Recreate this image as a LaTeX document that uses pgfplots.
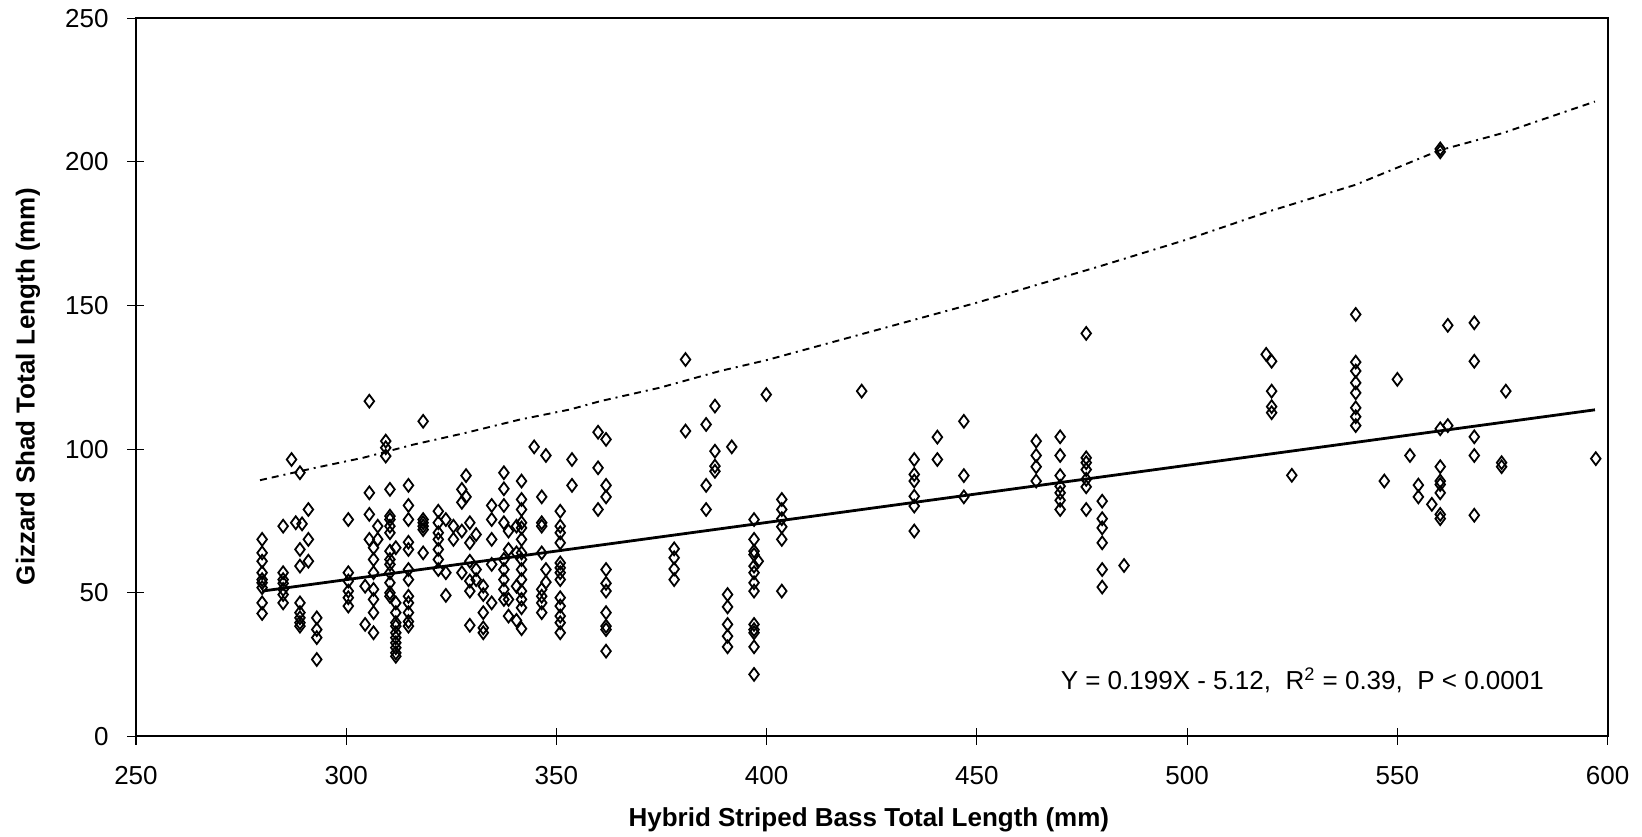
\documentclass[border=0pt]{standalone}
\usepackage{fontspec}
\setmainfont{Liberation Sans}
\usepackage{pgfplots}
\pgfplotsset{compat=1.18}
\begin{document}
\fontsize{13}{15}\selectfont
\begin{tikzpicture}
\begin{axis}[
  scale only axis, width=735.75pt, height=359.1pt,
  xmin=250, xmax=600, ymin=0, ymax=250,
  xtick={250,300,...,600}, ytick={0,50,...,250},
  tick align=center, major tick length=8.5pt,
  xtick pos=lower, ytick pos=left,
  axis line style={line width=1pt},
  tick style={line width=0.6pt, black},
  /pgf/number format/assume math mode=true,
  ticklabel style={font=\fontsize{13}{15}\selectfont},
  xticklabel style={yshift=-6pt},
  yticklabel style={xshift=-8.3pt, inner sep=1pt},
  xlabel={\bfseries Hybrid Striped Bass Total Length (mm)},
  ylabel={\bfseries Gizzard Shad Total Length (mm)},
  xlabel style={at={(rel axis cs:0.498,-0.1156)}, anchor=center, inner sep=0.5pt},
  ylabel style={at={(rel axis cs:-0.0734,0.487)}, anchor=center, inner sep=0.5pt},
  label style={font=\fontsize{13}{15}\selectfont\bfseries},
  clip=false,
]
\path (rel axis cs:-0.0924,-0.139) rectangle (rel axis cs:1.0234,1.0254);
% scatter
\addplot[only marks, mark=diamond, mark size=3.2pt, mark options={line width=0.9pt, draw=black, fill=none}] coordinates {
(280,68.6)(280,63.9)(280,61.0)(280,57.0)(280,54.6)(280,53.5)(280,51.8)(280,46.5)(280,42.8)
(285,73.2)(285,57.0)(285,54.6)(285,53.3)(285,51.2)(285,49.4)(285,46.5)
(287,96.4)(288,74.4)
(289,91.8)(289.5,74.0)(289,65.1)(289,59.3)(289,46.5)(289,43.1)(289,41.3)(289,39.6)(289,38.4)
(291,79.0)(291,68.6)(291,61.0)
(293,41.3)(293,37.2)(293,34.4)(293,26.8)
(300.5,75.5)(300.5,57.0)(300.5,54.1)(300.5,50.6)(300.5,48.3)(300.5,45.4)
(305.5,116.7)(305.5,84.8)(305.5,77.3)(305.5,68.6)
(307.5,73.2)(307.5,68.6)
(306.5,65.7)(306.5,61.6)(306.5,57.0)(306.5,51.2)(306.5,47.7)(306.5,43.1)(306.5,36.1)
(304.5,52.3)(304.5,39.0)
(310.4,86.0)(310.4,76.7)(310.4,75.5)(310.4,73.2)(310.4,70.9)(310.4,64.5)(310.4,61.6)(310.4,59.9)(310.4,57.0)(310.4,53.5)(310.4,50.0)(310.4,48.8)
(309.4,102.8)(309.4,100.5)(309.4,97.6)
(311.8,65.7)(311.8,46.5)(311.8,43.1)(311.8,39.6)(311.8,38.4)(311.8,36.1)(311.8,34.4)(311.8,32.6)(311.8,30.9)(311.8,29.1)(311.8,27.9)
(314.8,87.4)(314.8,80.4)(314.8,75.5)(314.8,67.6)(314.8,65.1)(314.8,58.1)(314.8,54.6)(314.8,48.8)(314.8,46.5)(314.8,43.1)(314.8,40.0)(314.8,38.4)
(318.3,109.7)(318.3,75.5)(318.3,74.4)(318.3,73.2)(318.3,72.0)(318.3,63.9)
(321.9,78.4)(321.9,74.4)(321.9,70.9)(321.9,68.6)(321.9,65.1)(321.9,61.6)(321.9,58.1)
(323.7,75.5)(323.7,57.0)(323.7,49.1)
(325.5,73.2)(325.5,68.6)
(327.5,71.5)(327.5,57.0)(327.5,86.0)(327.5,81.5)
(328.5,90.8)(328.5,83.4)
(329.4,74.4)(329.4,67.4)(329.4,61.0)(329.4,54.1)(329.4,50.6)(329.4,38.7)
(330.9,70.3)(330.9,58.1)(330.9,54.6)
(332.6,52.3)(332.6,49.4)(332.6,43.1)(332.6,37.8)(332.6,36.1)
(334.6,80.4)(334.6,75.5)(334.6,68.6)(334.6,59.9)(334.6,46.5)
(337.5,91.8)(337.5,86.2)(337.5,80.4)(337.5,74.4)(337.5,61.6)(337.5,58.1)(337.5,54.6)(337.5,51.2)(337.5,47.7)
(338.6,71.5)(338.6,65.1)(338.6,47.7)(338.6,41.9)
(340.5,73.2)(340.5,63.9)(340.5,52.3)(340.5,40.4)
(341.7,88.9)(341.7,82.5)(341.7,79.0)(341.7,74.4)(341.7,72.6)(341.7,68.6)(341.7,63.9)(341.7,61.6)(341.7,58.1)(341.7,54.6)(341.7,50.6)(341.7,47.7)(341.7,44.8)(341.7,37.5)
(344.7,100.8)
(346.5,83.4)(346.5,74.4)(346.5,73.2)(346.5,63.9)(346.5,51.2)(346.5,48.8)(346.5,46.5)(346.5,43.1)
(347.5,97.8)(347.5,58.1)(347.5,53.7)
(350.9,78.4)(350.9,73.2)(350.9,70.9)(350.9,67.4)(350.9,60.4)(350.9,58.7)(350.9,57.0)(350.9,54.6)(350.9,48.3)(350.9,45.4)(350.9,41.9)(350.9,39.6)(350.9,36.1)
(353.7,96.4)(353.7,87.4)
(359.9,105.9)(359.9,93.5)(359.9,79.0)
(361.8,103.4)(361.8,87.4)(361.8,83.4)(361.8,58.1)(361.8,53.3)(361.8,50.6)(361.8,43.1)(361.8,38.4)(361.8,37.2)(361.8,29.7)
(378.0,65.3)(378.0,62.2)(378.0,58.3)(378.0,54.6)
(380.7,106.3)(380.7,131.2)
(385.6,108.6)(385.6,87.4)(385.6,79.0)
(387.7,115.0)(387.7,99.3)(387.7,94.1)(387.7,92.3)
(390.7,49.4)(390.7,45.1)(390.7,39.0)(390.7,34.9)(390.7,31.2)
(391.7,100.8)
(397.0,75.5)(397.0,68.6)(397.0,64.5)(397.0,63.3)(397.0,59.3)(397.0,57.0)(397.0,53.5)(397.0,50.6)(397.0,39.0)(397.0,37.2)(397.0,36.1)(397.0,31.2)(397.0,21.6)
(398.0,61.0)
(399.9,119.0)
(403.6,82.5)(403.6,79.0)(403.6,75.8)(403.6,73.0)(403.6,68.6)(403.6,50.6)
(422.6,120.2)
(435.1,96.4)(435.1,91.2)(435.1,88.9)(435.1,83.6)(435.1,80.2)(435.1,71.5)
(440.6,104.2)(440.6,96.4)
(446.9,109.7)(446.9,90.8)(446.9,83.4)
(464.1,102.8)(464.1,97.8)(464.1,93.9)(464.1,88.9)
(469.8,104.3)(469.8,97.8)(469.8,90.8)(469.8,87.1)(469.8,84.8)(469.8,82.2)(469.8,79.0)
(476.0,140.3)(476.0,97.0)(476.0,95.3)(476.0,92.9)(476.0,89.5)(476.0,86.9)(476.0,79.0)
(479.8,81.9)(479.8,75.8)(479.8,72.6)(479.8,67.4)(479.8,58.1)(479.8,52.0)
(485.0,59.5)
(518.8,133.0)
(520.1,130.6)(520.1,120.2)(520.1,114.8)(520.1,112.7)
(524.9,90.9)
(540.1,146.9)(540.1,130.3)(540.1,127.2)(540.1,123.1)(540.1,119.6)(540.1,114.4)(540.1,111.3)(540.1,108.2)
(546.9,88.9)
(550.0,124.3)
(553.0,97.8)
(555.0,87.5)(555.0,83.4)
(558.2,80.8)
(560.2,107.1)(560.2,93.9)(560.2,88.9)(560.2,87.7)(560.2,84.8)(560.2,77.3)(560.2,75.8)(560.2,204.5)(560.2,203.5)
(562.0,108.2)(562.0,143.1)
(568.3,144.0)(568.3,130.6)(568.3,104.3)(568.3,97.8)(568.3,77.0)
(574.8,95.3)(574.8,93.9)
(575.8,120.2)
(597.2,96.7)
};
% regression line
\addplot[black, line width=1.4pt] coordinates {(280,50.6) (597,113.7)};
% upper dash-dot line
\addplot[black, line width=0.95pt, dash pattern=on 3.5pt off 2.5pt on 3.5pt off 2.5pt on 1pt off 2.5pt] coordinates {
(279.5,89.2)(292.6,93.5)(304,97)(316,101.6)(327.9,105.5)(341.3,110.3)(353.2,113.8)(360.4,116.7)(374.6,121.4)(388.9,127.2)(400,131)(420,139)(450,151)(480,164)(500,173)(520,183)(540,192)(560,204)(575,210)(597,221)
};
\node[anchor=east, font=\fontsize{13}{15}\selectfont] at (axis cs:587,19.5) {Y = 0.199X - 5.12,\ \ R\textsuperscript{2} = 0.39,\ \ P < 0.0001};
\end{axis}
\end{tikzpicture}
\end{document}
